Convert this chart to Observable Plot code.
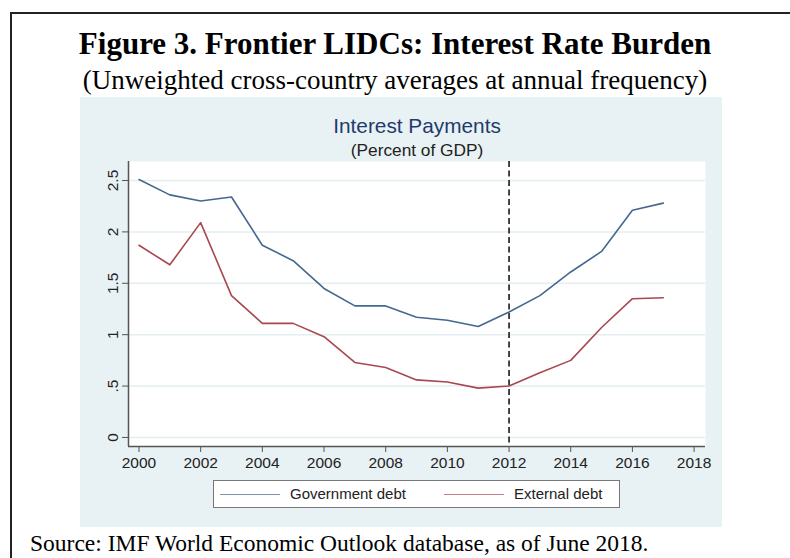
<!DOCTYPE html>
<html><head><meta charset="utf-8">
<script src="https://cdn.jsdelivr.net/npm/d3@7"></script>
<script src="https://cdn.jsdelivr.net/npm/@observablehq/plot@0.6"></script>
<style>
html,body{margin:0;padding:0;background:#fff;}
#page{position:relative;width:790px;height:558px;overflow:hidden;}
#border{position:absolute;left:10px;top:12px;width:900px;height:700px;border-left:2px solid #222;border-top:2px solid #222;}
.serif{font-family:"Liberation Serif","Times New Roman",serif;color:#000;position:absolute;white-space:nowrap;line-height:1;}
#title{left:0;width:790px;text-align:center;top:28px;font-size:31px;font-weight:bold;}
#subtitle{left:0;width:790px;text-align:center;top:67px;font-size:27px;}
#source{left:30px;top:532px;font-size:23.5px;}
#panel{position:absolute;left:80px;top:97px;width:642px;height:430px;background:#E8F1F3;}
#legend{position:absolute;left:133px;top:383px;width:405px;height:26px;background:#fff;border:1px solid #777;font-family:"Liberation Sans",Arial,sans-serif;font-size:15px;color:#222;}
#legend .ln{position:absolute;height:0;width:60px;top:13px;border-top:1.2px solid;}
#legend .lb{position:absolute;top:5px;line-height:1;white-space:nowrap;}
</style>
</head><body>
<div id="page">
  <div id="border"></div>
  <div id="title" class="serif"></div>
  <div id="subtitle" class="serif"></div>
  <div id="panel"><div id="legend"></div></div>
  <div id="source" class="serif"></div>
</div>
<script>
// ---- data ----
const years = [2000, 2001, 2002, 2003, 2004, 2005, 2006, 2007, 2008, 2009, 2010, 2011, 2012, 2013, 2014, 2015, 2016, 2017];
const governmentDebt = [2.51, 2.36, 2.30, 2.34, 1.87, 1.72, 1.45, 1.28, 1.28, 1.17, 1.14, 1.08, 1.22, 1.38, 1.61, 1.81, 2.21, 2.28];
const externalDebt = [1.87, 1.68, 2.09, 1.38, 1.11, 1.11, 0.98, 0.73, 0.68, 0.56, 0.54, 0.48, 0.50, 0.63, 0.75, 1.07, 1.35, 1.36];
const seriesNames = ["Government debt", "External debt"];
const seriesColors = ["#44688F", "#A9474F"];
const xTicks = [2000, 2002, 2004, 2006, 2008, 2010, 2012, 2014, 2016, 2018];
const yTicks = [0, 0.5, 1, 1.5, 2, 2.5];
const yTickLabels = ["0", ".5", "1", "1.5", "2", "2.5"];
const markerYear = [2012];
const figureTitle = "Figure 3. Frontier LIDCs: Interest Rate Burden";
const figureSubtitle = "(Unweighted cross-country averages at annual frequency)";
const chartTitle = "Interest Payments";
const chartSubtitle = "(Percent of GDP)";
const sourceNote = "Source: IMF World Economic Outlook database, as of June 2018.";

// ---- layout ----
const xDomain = [1999.66, 2018.37];
const yDomain = [-0.088, 2.685];

document.getElementById("title").textContent = figureTitle;
document.getElementById("subtitle").textContent = figureSubtitle;
document.getElementById("source").textContent = sourceNote;

const govRows = years.map((y, i) => ({year: y, value: governmentDebt[i]}));
const extRows = years.map((y, i) => ({year: y, value: externalDebt[i]}));

const chart = Plot.plot({
  width: 642,
  height: 430,
  marginLeft: 48,
  marginRight: 17,
  marginTop: 64,
  marginBottom: 81,
  style: {background: "transparent", fontFamily: "'Liberation Sans', Arial, sans-serif", color: "#222", overflow: "visible"},
  x: {domain: xDomain, label: null},
  y: {domain: yDomain, label: null},
  marks: [
    Plot.frame({fill: "#fff", stroke: null}),
    Plot.gridY(yTicks, {stroke: "#E4EEF1", strokeOpacity: 1, strokeWidth: 1.5}),
    Plot.ruleX([xDomain[0]], {stroke: "#555", strokeWidth: 1.5}),
    Plot.ruleY([yDomain[0]], {stroke: "#555", strokeWidth: 1.5}),
    Plot.axisX({ticks: xTicks, tickSize: 6, tickPadding: 4, tickFormat: d => String(d), fontSize: 15.5, stroke: "#555", fill: "#222", label: null}),
    Plot.axisY({ticks: yTicks, tickSize: 6, tickFormat: () => "", stroke: "#555", label: null}),
    Plot.text(yTicks, {y: d => d, text: (d, i) => yTickLabels[i], frameAnchor: "left", rotate: -90, dx: -11, lineAnchor: "bottom", textAnchor: "middle", fontSize: 15.5, fill: "#222"}),
    Plot.ruleX(markerYear, {stroke: "#333", strokeWidth: 1.8, strokeDasharray: "6,3.5"}),
    Plot.line(govRows, {x: "year", y: "value", stroke: seriesColors[0], strokeWidth: 1.6}),
    Plot.line(extRows, {x: "year", y: "value", stroke: seriesColors[1], strokeWidth: 1.6}),
    Plot.text([chartTitle], {text: d => d, frameAnchor: "top", dy: -29, lineAnchor: "bottom", fontSize: 20.8, fill: "#1F3B6B"}),
    Plot.text([chartSubtitle], {text: d => d, frameAnchor: "top", dy: -6, lineAnchor: "bottom", fontSize: 17.3, fill: "#222"})
  ]
});
const panel = document.getElementById("panel");
panel.insertBefore(chart, panel.firstChild);
chart.style.position = "absolute";
chart.style.left = "0px";
chart.style.top = "0px";

// legend built from series arrays
const legend = document.getElementById("legend");
const legendPos = [[6, 76], [230, 300]];
seriesNames.forEach((name, i) => {
  const ln = document.createElement("div");
  ln.className = "ln";
  ln.style.left = legendPos[i][0] + "px";
  ln.style.borderTopColor = seriesColors[i];
  ln.style.opacity = 0.7;
  legend.appendChild(ln);
  const lb = document.createElement("div");
  lb.className = "lb";
  lb.style.left = legendPos[i][1] + "px";
  lb.textContent = name;
  legend.appendChild(lb);
});
</script>
</body></html>
